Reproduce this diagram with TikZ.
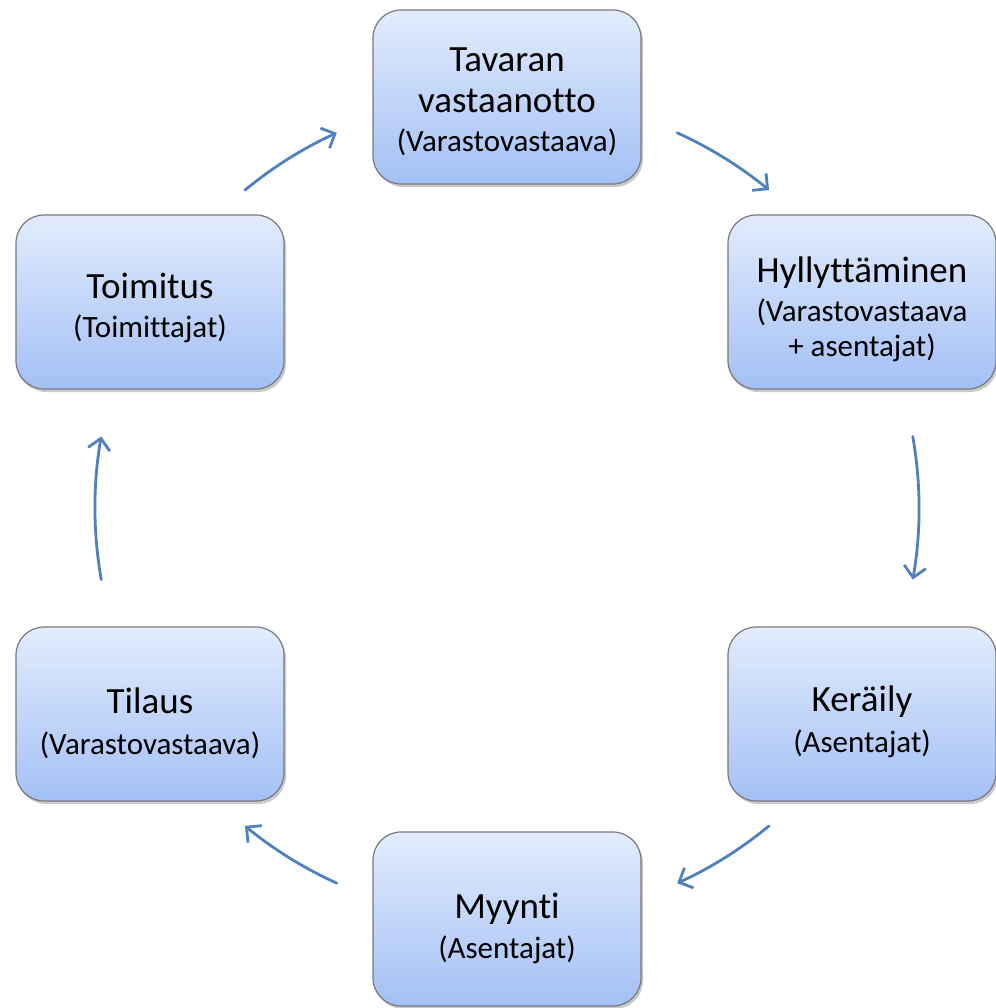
\documentclass[tikz,border=0pt]{standalone}
\usepackage{fontspec}
\setmainfont{Carlito}[RawFeature={-liga}]
\usetikzlibrary{shadows,arrows.meta}
\definecolor{boxtop}{RGB}{226,236,253}
\definecolor{boxbot}{RGB}{163,192,245}
\definecolor{boxline}{RGB}{120,120,125}
\definecolor{arr}{RGB}{79,129,189}
\newcommand{\subt}[1]{{\fontsize{31}{35}\selectfont #1}}
\begin{document}
\begin{tikzpicture}[x=1pt,y=1pt,
  stage/.style={rectangle, rounded corners=28pt, minimum width=268pt, minimum height=174pt,
    draw=boxline, line width=1.2pt, top color=boxtop, bottom color=boxbot,
    drop shadow={opacity=0.35, shadow xshift=2pt, shadow yshift=-3pt, fill=black!60}},
  stagetext/.style={align=center, inner sep=0pt, font=\fontsize{37}{41}\selectfont},
  flow/.style={draw=arr, line width=2.8pt, line cap=round,
    -{Straight Barb[length=11pt,width=22pt,line width=2.8pt]}}]
\useasboundingbox (0,0) rectangle (995,-1008);
\coordinate (C) at (507,-508);
\node[stage] (tav) at (507,-97) {};
\node[stage] (hyl) at (862,-302) {};
\node[stage] (ker) at (862,-714) {};
\node[stage] (myy) at (507,-919) {};
\node[stage] (til) at (150,-714) {};
\node[stage] (toi) at (150,-302) {};
\node[stagetext] (tav-t) at ([yshift=-5pt]tav.center) {Tavaran\\vastaanotto\\[-2pt]\subt{(Varastovastaava)}};
\node[stagetext] (hyl-t) at ([yshift=-7pt]hyl.center) {Hyllyttäminen\\[-2pt]\subt{(Varastovastaava}\\[-6pt]\subt{+ asentajat)}};
\node[stagetext] (ker-t) at ([yshift=-8pt]ker.center) {Keräily\\\subt{(Asentajat)}};
\node[stagetext] (myy-t) at ([yshift=-9pt]myy.center) {Myynti\\[-1pt]\subt{(Asentajat)}};
\node[stagetext] (til-t) at ([yshift=-9pt]til.center) {Tilaus\\\subt{(Varastovastaava)}};
\node[stagetext] (toi-t) at ([yshift=-6pt]toi.center) {Toimitus\\[-2pt]\subt{(Toimittajat)}};
\draw[flow] ([shift={(129.5:412)}]C) arc[start angle=129.5, end angle=114.4, radius=412];
\draw[flow] ([shift={(65.6:412)}]C) arc[start angle=65.6, end angle=50.5, radius=412];
\draw[flow] ([shift={(10:412)}]C) arc[start angle=10, end angle=-10, radius=412];
\draw[flow] ([shift={(-50.5:412)}]C) arc[start angle=-50.5, end angle=-65.6, radius=412];
\draw[flow] ([shift={(-114.4:412)}]C) arc[start angle=-114.4, end angle=-129.5, radius=412];
\draw[flow] ([shift={(190:412)}]C) arc[start angle=190, end angle=170, radius=412];
\end{tikzpicture}
\end{document}
